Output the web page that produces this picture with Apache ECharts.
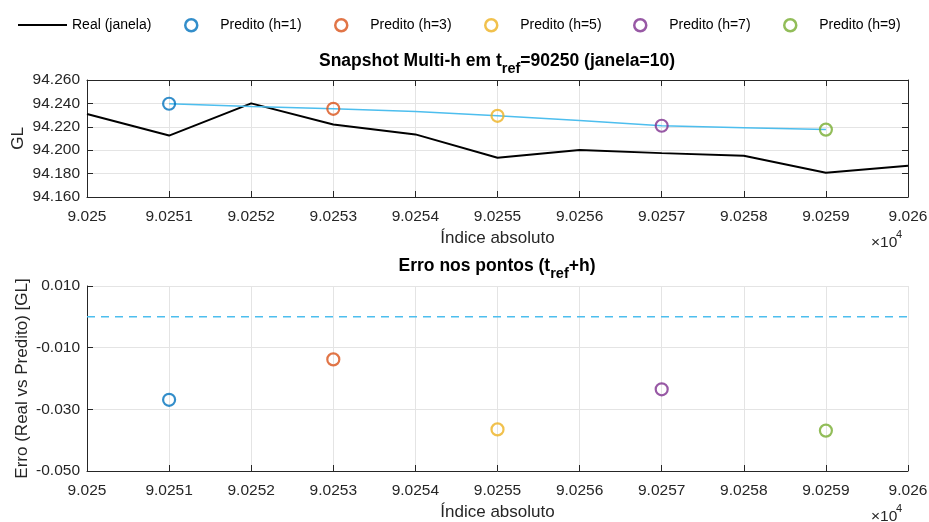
<!DOCTYPE html>
<html><head><meta charset="utf-8">
<script src="https://cdn.jsdelivr.net/npm/echarts@6/dist/echarts.min.js"></script>
<style>html,body{margin:0;padding:0;background:#fff}#c{width:929px;height:522px}</style>
</head><body><div id="c"></div>
<script>
// ---- data ----
const xIndex = [90250, 90251, 90252, 90253, 90254, 90255, 90256, 90257, 90258, 90259, 90260];
const realValues = [94.231, 94.2125, 94.240, 94.222, 94.2135, 94.1935, 94.2002, 94.1975, 94.1953, 94.1808, 94.1868];
const predX = [90251, 90252, 90253, 90254, 90255, 90256, 90257, 90258, 90259];
const predLine = [94.2397, 94.2374, 94.2354, 94.2331, 94.2294, 94.2254, 94.2209, 94.2192, 94.2176];
const horizons = [1, 3, 5, 7, 9];
const predPointX = [90251, 90253, 90255, 90257, 90259];
const predPointY = [94.2397, 94.2354, 94.2294, 94.2209, 94.2176];
const errValues = [-0.0269, -0.0138, -0.0365, -0.0235, -0.0369];
const zeroLineX = [90250, 90260];
const zeroLineY = [0, 0];
const topYTicks = [94.16, 94.18, 94.20, 94.22, 94.24, 94.26];
const botYTicks = [-0.05, -0.03, -0.01, 0.01];
const seriesNames = horizons.map(h => 'Predito (h=' + h + ')');
const realName = 'Real (janela)';

// ---- style ----
const FONT = '"Liberation Sans", Arial, Helvetica, sans-serif';
const colors = ['#0072BD', '#D95319', '#EDB120', '#7E2F8E', '#77AC30'];
const axisCol = '#262626';
const gridCol = '#e4e4e4';
const lightBlue = '#4DBEEE';
const G0 = {left: 87, right: 21, top: 80, height: 117, outerBoundsMode: 'none', containLabel: false};
const G1 = {left: 87, right: 21, top: 286, height: 185, outerBoundsMode: 'none', containLabel: false};

const xFmt = v => (v / 1e4).toFixed(4).replace(/0+$/, '');
const tickLab = {color: axisCol, fontFamily: FONT, fontSize: 15.5};
const nameStyle = {color: axisCol, fontFamily: FONT, fontSize: 17};

function xAx(grid, pos, showLab) {
  return {
    type: 'value', gridIndex: grid, position: pos, min: 90250, max: 90260, interval: 1,
    axisLine: {show: true, onZero: false, lineStyle: {color: axisCol, width: 1}},
    axisTick: {show: true, inside: true, length: 6, lineStyle: {color: axisCol}},
    axisLabel: {show: showLab, formatter: xFmt, margin: 12, hideOverlap: false, ...tickLab},
    splitLine: {show: showLab, lineStyle: {color: gridCol, width: 1}},
    name: showLab ? 'Índice absoluto' : '', nameLocation: 'middle', nameGap: 33,
    nameMoveOverlap: false, nameTextStyle: nameStyle
  };
}
function yAx(grid, pos, ticks, showLab, name, gap, dec) {
  return {
    type: 'value', gridIndex: grid, position: pos, min: ticks[0], max: ticks[ticks.length - 1],
    axisLine: {show: true, onZero: false, lineStyle: {color: axisCol, width: 1}},
    axisTick: {show: true, inside: true, length: 6, lineStyle: {color: axisCol}, customValues: ticks},
    axisLabel: {show: showLab, customValues: ticks, formatter: v => v.toFixed(dec), margin: 7, hideOverlap: false, ...tickLab},
    splitLine: {show: showLab, lineStyle: {color: gridCol, width: 1}},
    name: showLab ? name : '', nameLocation: 'middle', nameGap: gap, nameRotate: 90,
    nameMoveOverlap: false, nameTextStyle: nameStyle
  };
}

const series = [];
series.push({
  name: realName, type: 'line', xAxisIndex: 0, yAxisIndex: 0, symbol: 'none', showSymbol: false,
  lineStyle: {color: '#000', width: 2}, itemStyle: {color: '#000'},
  data: xIndex.map((x, i) => [x, realValues[i]]), z: 2
});
series.push({
  name: 'pred-line', type: 'line', xAxisIndex: 0, yAxisIndex: 0, symbol: 'none',
  lineStyle: {color: lightBlue, width: 1.5}, itemStyle: {color: lightBlue},
  data: predX.map((x, i) => [x, predLine[i]]), z: 3
});
series.push({
  name: 'zero', type: 'line', xAxisIndex: 2, yAxisIndex: 2, symbol: 'none',
  lineStyle: {color: lightBlue, width: 1.5, type: [8, 6]},
  data: zeroLineX.map((x, i) => [x, zeroLineY[i]]), z: 3
});
horizons.forEach((h, i) => {
  const st = {color: 'rgba(255,255,255,0)', borderColor: colors[i], borderWidth: 2.2};
  series.push({name: seriesNames[i], type: 'scatter', xAxisIndex: 0, yAxisIndex: 0,
    symbol: 'circle', symbolSize: 12, itemStyle: st, data: [[predPointX[i], predPointY[i]]], z: 5});
  series.push({name: seriesNames[i], type: 'scatter', xAxisIndex: 2, yAxisIndex: 2,
    symbol: 'circle', symbolSize: 12, itemStyle: st, data: [[predPointX[i], errValues[i]]], z: 5});
});

const legendText = {color: '#000', fontFamily: FONT, fontSize: 14};
const legends = [{
  left: 18, top: 18, padding: 0, itemWidth: 49, itemHeight: 2, itemGap: 0,
  data: [{name: realName, icon: 'rect', itemStyle: {color: '#000', borderWidth: 0}}],
  textStyle: legendText, selectedMode: false
}];
const legendCenters = [190, 340, 490, 639, 789];
horizons.forEach((h, i) => {
  legends.push({
    left: legendCenters[i] - 6, top: 18, padding: 0, itemWidth: 48, itemHeight: 12, symbolKeepAspect: true,
    data: [{name: seriesNames[i], icon: 'circle',
      itemStyle: {color: 'rgba(255,255,255,0)', borderColor: colors[i], borderWidth: 2.5}}],
    textStyle: legendText, selectedMode: false
  });
});

const titleRich = {
  b: {fontFamily: FONT, fontSize: 17.5, fontWeight: 'bold', color: '#000', lineHeight: 20},
  s: {fontFamily: FONT, fontSize: 14.5, fontWeight: 'bold', color: '#000', lineHeight: 14, padding: [16, 0, 0, 0]}
};

const option = {
  backgroundColor: '#fff',
  animation: false,
  title: [
    {text: '{b|Snapshot Multi-h em t}{s|ref}{b|=90250 (janela=10)}', left: 497, top: 51, padding: 0, textAlign: 'center',
      textStyle: {rich: titleRich}},
    {text: '{b|Erro nos pontos (t}{s|ref}{b|+h)}', left: 497, top: 256, padding: 0, textAlign: 'center',
      textStyle: {rich: titleRich}}
  ],
  legend: legends,
  grid: [G0, G1],
  xAxis: [xAx(0, 'bottom', true), xAx(0, 'top', false), xAx(1, 'bottom', true)],
  yAxis: [
    yAx(0, 'left', topYTicks, true, 'GL', 60, 3),
    yAx(0, 'right', topYTicks, false, '', 0, 3),
    yAx(1, 'left', botYTicks, true, 'Erro (Real vs Predito) [GL]', 56, 3)
  ],
  graphic: [
    {type: 'text', left: 871, top: 235, style: {text: '×10', fill: axisCol, font: '15.5px ' + FONT}},
    {type: 'text', left: 896, top: 229, style: {text: '4', fill: axisCol, font: '11px ' + FONT}},
    {type: 'text', left: 871, top: 509, style: {text: '×10', fill: axisCol, font: '15.5px ' + FONT}},
    {type: 'text', left: 896, top: 503, style: {text: '4', fill: axisCol, font: '11px ' + FONT}}
  ],
  series: series
};
const chart = echarts.init(document.getElementById('c'), null, {renderer: 'canvas'});
chart.setOption(option);
</script></body></html>
